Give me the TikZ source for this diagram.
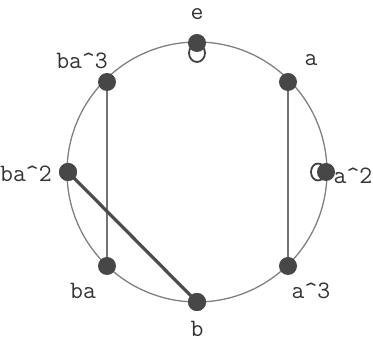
\documentclass[tikz,border=0pt]{standalone}
\begin{document}
\begin{tikzpicture}[x=1pt,y=-1pt,
  vtx/.style={circle,fill=black!72,inner sep=0pt,minimum size=18pt},
  lbl/.style={font=\ttfamily\fontsize{25}{25}\selectfont,text=black!80,inner sep=0pt},
  thinedge/.style={draw=black!55,line width=1.6pt},
  thickedge/.style={draw=black!70,line width=3.2pt},
  loopst/.style={draw=black!75,line width=1.8pt}]
\useasboundingbox (0,0) rectangle (373,344);
\draw[black!50,line width=1.3pt] (197,172) circle (130);
% loops
\draw[loopst] (197,53) ellipse (8pt and 9pt);
\draw[loopst] (318,172) ellipse (7pt and 8.5pt);
% vertices
\node[vtx] (e) at (197,43) {};
\node[vtx] (a) at (288,82) {};
\node[vtx] (a2) at (326,172) {};
\node[vtx] (a3) at (288,266) {};
\node[vtx] (b) at (197,302) {};
\node[vtx] (ba) at (107,266) {};
\node[vtx] (ba2) at (68,172) {};
\node[vtx] (ba3) at (107,82) {};
% edges
\draw[thinedge] (a) -- (a3);
\draw[thinedge] (ba3) -- (ba);
\draw[thickedge] (ba2.center) -- (b.center);
\node[vtx] at (ba2) {};
\node[vtx] at (b) {};
% labels
\node[lbl] (le) at (197,14) {e};
\node[lbl] (la) at (311,60) {a};
\node[lbl,anchor=east] (la2) at (372.5,176) {a\^{}2};
\node[lbl] (la3) at (311,291) {a\^{}3};
\node[lbl] (lb) at (197,329) {b};
\node[lbl] (lba) at (83,291) {ba};
\node[lbl,anchor=west] (lba2) at (0,174) {ba\^{}2};
\node[lbl] (lba3) at (82,61) {ba\^{}3};
\end{tikzpicture}
\end{document}
